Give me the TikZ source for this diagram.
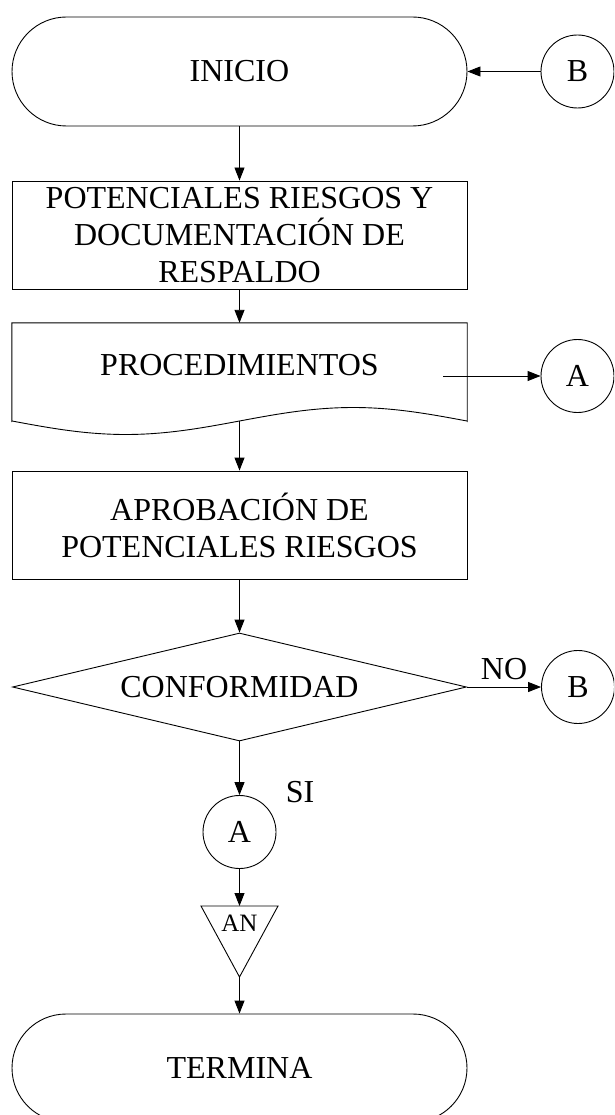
\documentclass[tikz,border=0pt]{standalone}
\usepackage{fontspec}
\setmainfont{Liberation Serif}
\usetikzlibrary{arrows.meta,shapes.geometric,shapes.misc}
\begin{document}
\begin{tikzpicture}[x=1pt,y=-1pt,
  every node/.style={font=\fontsize{32}{37}\selectfont, inner sep=0pt},
  line/.style={line width=0.9pt},
  arr/.style={line width=0.9pt,-{Triangle[length=13pt,width=10pt]}},
  term/.style={rounded rectangle, draw, line width=0.9pt, minimum width=455pt, minimum height=109pt},
  proc/.style={rectangle, draw, line width=0.9pt, minimum width=455pt, minimum height=108pt, align=center},
  conn/.style={circle, draw, line width=0.9pt, minimum size=73pt}]
\useasboundingbox (0,0) rectangle (614,1115);
\clip (0,0) rectangle (614,1115);
% nodes
\node[term] (inicio) at (239.5,71.5) {INICIO};
\node[conn] (b1) at (577.5,71.5) {B};
\node[proc] (pot) at (239.5,235) {POTENCIALES RIESGOS Y\\DOCUMENTACIÓN DE\\RESPALDO};
\node[minimum width=455pt, minimum height=98pt] (doc) at (239.5,372) {};
\node (doctext) at (239.5,365) {PROCEDIMIENTOS};
\draw[line] (doc.south west) -- (doc.north west) -- (doc.north east) -- (doc.south east)
  -- plot[domain=467:12,samples=90] (\x,{421+13.5*sin(0.79121*(\x-12))}) -- cycle;
\node[conn] (a1) at (577.5,376) {A};
\coordinate (docout) at (443,376);
\node[proc] (apro) at (239.5,525) {APROBACIÓN DE\\POTENCIALES RIESGOS};
\node[diamond, draw, line width=0.9pt, minimum width=454pt, minimum height=108pt, aspect=4.2] (conf) at (239.5,687) {CONFORMIDAD};
\node (no) at (504,669) {NO};
\node[conn] (b2) at (578,687) {B};
\node[conn] (a2) at (239.5,832) {A};
\node (si) at (300,792) {SI};
\node[font=\fontsize{25}{30}\selectfont] (an) at (239.5,923) {AN};
\coordinate (antop) at (239.5,906);
\coordinate (anbot) at (239.5,977);
\draw[line] (201,906) -- (278,906) -- (anbot) -- cycle;
\node[term, minimum height=108pt] (termina) at (239.5,1068) {TERMINA};
% connectors
\draw[arr] (b1.west) -- (inicio.east);
\draw[arr] (inicio.south) -- (pot.north);
\draw[arr] (pot.south) -- (doc.north);
\draw[arr] (docout) -- (a1.west);
\draw[arr] (doc.south) -- (apro.north);
\draw[arr] (apro.south) -- (conf.north);
\draw[arr] (conf.east) -- (b2.west);
\draw[arr] (conf.south) -- (a2.north);
\draw[arr] (a2.south) -- (antop);
\draw[arr] (anbot) -- (termina.north);
\end{tikzpicture}
\end{document}
